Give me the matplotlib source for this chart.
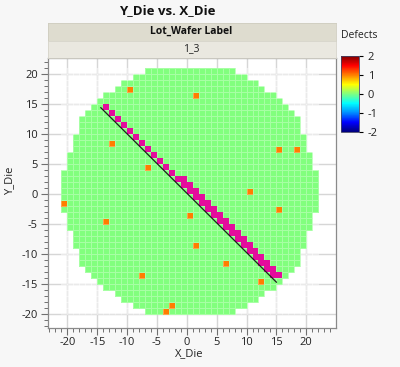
import numpy as np
import matplotlib
matplotlib.use("Agg")
import matplotlib.pyplot as plt
from matplotlib.colors import LinearSegmentedColormap, ListedColormap, Normalize

plt.rcParams['font.family'] = ['Open Sans', 'DejaVu Sans']

# ---------------- data ----------------
# wafer rows: Y_Die (lower edge of the die row) and X_Die extents (lower-left die index)
row_y = [-20, -19, -18, -17, -16, -15, -14, -13, -12, -11, -10, -9, -8, -7, -6, -5, -4, -3, -2, -1,
         0, 1, 2, 3, 4, 5, 6, 7, 8, 9, 10, 11, 12, 13, 14, 15, 16, 17, 18, 19, 20]
row_xmin = [-7, -9, -11, -12, -14, -15, -16, -17, -18, -18, -18, -19, -19, -19, -20, -20, -20, -21, -21, -21,
            -21, -21, -21, -21, -20, -20, -20, -19, -19, -19, -18, -18, -18, -17, -16, -15, -14, -12, -11, -9, -7]
row_xmax = [7, 9, 11, 12, 14, 15, 16, 17, 18, 18, 18, 19, 19, 19, 20, 20, 20, 21, 21, 21,
            21, 21, 21, 21, 20, 20, 20, 19, 19, 19, 18, 18, 18, 17, 16, 15, 14, 12, 11, 9, 7]

# dies with a defect (Defects = 1)
defect_x = [-10, 1, -13, -7, -21, 0, -14, 1, -8, -3, -4, 15, 18, 10, 15, 6, 12]
defect_y = [17, 16, 8, 4, -2, -4, -5, -9, -14, -19, -20, 7, 7, 0, -3, -12, -15]
defect_val = [1] * 17

# highlighted (selected) dies along the scratch
sel_x = [-14, -13, -12, -11, -10, -9, -8, -7, -6, -5, -4, -3,
         -2, -1, -1, 0, 0, 1, 1, 2, 2, 3, 3, 4, 4, 5, 5, 6, 6, 7, 7, 8, 8, 9,
         9, 10, 10, 11, 11, 12, 12, 13, 13, 14, 14, 15]
sel_y = [14, 13, 12, 11, 10, 9, 8, 7, 6, 5, 4, 3,
         2, 2, 1, 1, 0, 0, -1, -1, -2, -2, -3, -3, -4, -4, -5, -5, -6, -6, -7, -7, -8, -8,
         -9, -9, -10, -10, -11, -11, -12, -12, -13, -13, -14, -14]

# scratch line
line_x = [-14.4, 15.0]
line_y = [14.4, -14.7]

x_ticks = [-20, -15, -10, -5, 0, 5, 10, 15, 20]
y_ticks = [-20, -15, -10, -5, 0, 5, 10, 15, 20]
cbar_ticks = [-2, -1, 0, 1, 2]

# ---------------- build grid ----------------
xmin_all, xmax_all = min(row_xmin), max(row_xmax)
ymin_all, ymax_all = min(row_y), max(row_y)
xe = np.arange(xmin_all, xmax_all + 2)
ye = np.arange(ymin_all, ymax_all + 2)
Z = np.full((len(ye) - 1, len(xe) - 1), np.nan)
for y, a, b in zip(row_y, row_xmin, row_xmax):
    Z[y - ymin_all, a - xmin_all:b - xmin_all + 1] = 0
for x, y, v in zip(defect_x, defect_y, defect_val):
    Z[y - ymin_all, x - xmin_all] = v
S = np.full_like(Z, np.nan)
for x, y in zip(sel_x, sel_y):
    S[y - ymin_all, x - xmin_all] = 1

cmap = LinearSegmentedColormap.from_list("jmpjet", [
    (0.0, (0, 0, 0.5)), (0.125, (0, 0, 1)), (0.25, (0, 0.55, 1)), (0.375, (0, 1, 1)),
    (0.5, (0.5, 1, 0.5)), (0.625, (1, 1, 0)), (0.75, (1, 0.5, 0)), (0.875, (1, 0, 0)),
    (1.0, (0.5, 0, 0))])
norm = Normalize(vmin=-2, vmax=2)

# ---------------- figure ----------------
W, H = 400, 367
fig = plt.figure(figsize=(W / 100, H / 100), dpi=100, facecolor='#F7F7F7')

def fx(px):
    return px / W

def fy(py):
    return 1 - py / H

ax_l, ax_r, ax_t, ax_b = 47.7, 335.5, 58.0, 327.7
ax = fig.add_axes([fx(ax_l), fy(ax_b), fx(ax_r) - fx(ax_l), fy(ax_t) - fy(ax_b)])
ax.set_facecolor('white')
ax.set_axisbelow(True)
ax.grid(True, color='#D6D6D6', lw=1.0)

ax.pcolormesh(xe, ye, np.ma.masked_invalid(Z), cmap=cmap, norm=norm,
              edgecolors=(1, 1, 1, 0.3), linewidth=0.4)
ax.pcolormesh(xe, ye, np.ma.masked_invalid(S), cmap=ListedColormap(['#E40C9C']),
              edgecolors=(1, 1, 1, 0.0), linewidth=0.0)
ax.plot(line_x, line_y, color='#1E1E1E', lw=0.9)

ax.set_xlim(-23.3, 24.9)
ax.set_ylim(-22.3, 22.7)
ax.set_xticks(x_ticks)
ax.set_yticks(y_ticks)
ax.set_xticks(np.arange(-23, 25), minor=True)
ax.set_yticks(np.arange(-22, 23), minor=True)
ax.grid(False, which='minor')
ax.tick_params(which='major', length=5, width=0.8, color='#707070', labelsize=8,
               labelcolor='#222222', pad=2)
ax.tick_params(which='minor', length=3, width=0.7, color='#707070')
ax.set_xticklabels([str(t) for t in x_ticks])
ax.set_yticklabels([str(t) for t in y_ticks])
for s in ax.spines.values():
    s.set_color('#8A8A8A')
    s.set_linewidth(0.9)

fig.text(fx(189), fy(354), 'X_Die', ha='center', va='center', fontsize=8, color='#222222')
fig.text(fx(10), fy(181), 'Y_Die', ha='center', va='center', fontsize=8, rotation=90, color='#222222')

# title
fig.text(fx(167.5), fy(10.5), 'Y_Die vs. X_Die', ha='center', va='center', fontsize=9.5,
         fontweight='bold', color='#111111')

# header bars
b1 = fig.add_axes([fx(ax_l), fy(40.7), fx(ax_r) - fx(ax_l), fy(22.7) - fy(40.7)])
b1.set_facecolor('#DEDCCF')
b1.set_xticks([]); b1.set_yticks([])
for s in b1.spines.values():
    s.set_color('#CFCDC0'); s.set_linewidth(0.6)
b1.text(0.5, 0.5, 'Lot_Wafer Label', ha='center', va='center', fontsize=7.5,
        fontweight='bold', color='#111111', transform=b1.transAxes)
b2 = fig.add_axes([fx(ax_l), fy(57.5), fx(ax_r) - fx(ax_l), fy(40.7) - fy(57.5)])
b2.set_facecolor('#EAE8E0')
b2.set_xticks([]); b2.set_yticks([])
for s in b2.spines.values():
    s.set_color('#D6D4CA'); s.set_linewidth(0.6)
b2.text(0.5, 0.5, '1_3', ha='center', va='center', fontsize=7.5, color='#222222',
        transform=b2.transAxes)

# colorbar
cax = fig.add_axes([fx(340.7), fy(131.7), fx(359.3) - fx(340.7), fy(56) - fy(131.7)])
sm = plt.cm.ScalarMappable(norm=norm, cmap=cmap)
cb = fig.colorbar(sm, cax=cax, ticks=cbar_ticks)
cb.outline.set_linewidth(0.6)
cb.outline.set_edgecolor('#444466')
cax.tick_params(length=3, width=0.8, labelsize=8, pad=3, labelcolor='#222222')
for t, v in zip(cax.yaxis.get_major_ticks(), cbar_ticks):
    t.tick2line.set_color(cmap(norm(v)))
cax.set_yticklabels([str(t) for t in cbar_ticks])
fig.text(fx(340.5), fy(36), 'Defects', ha='left', va='center', fontsize=7.5, color='#222222')

fig.savefig('out.png', dpi=100, facecolor=fig.get_facecolor())
